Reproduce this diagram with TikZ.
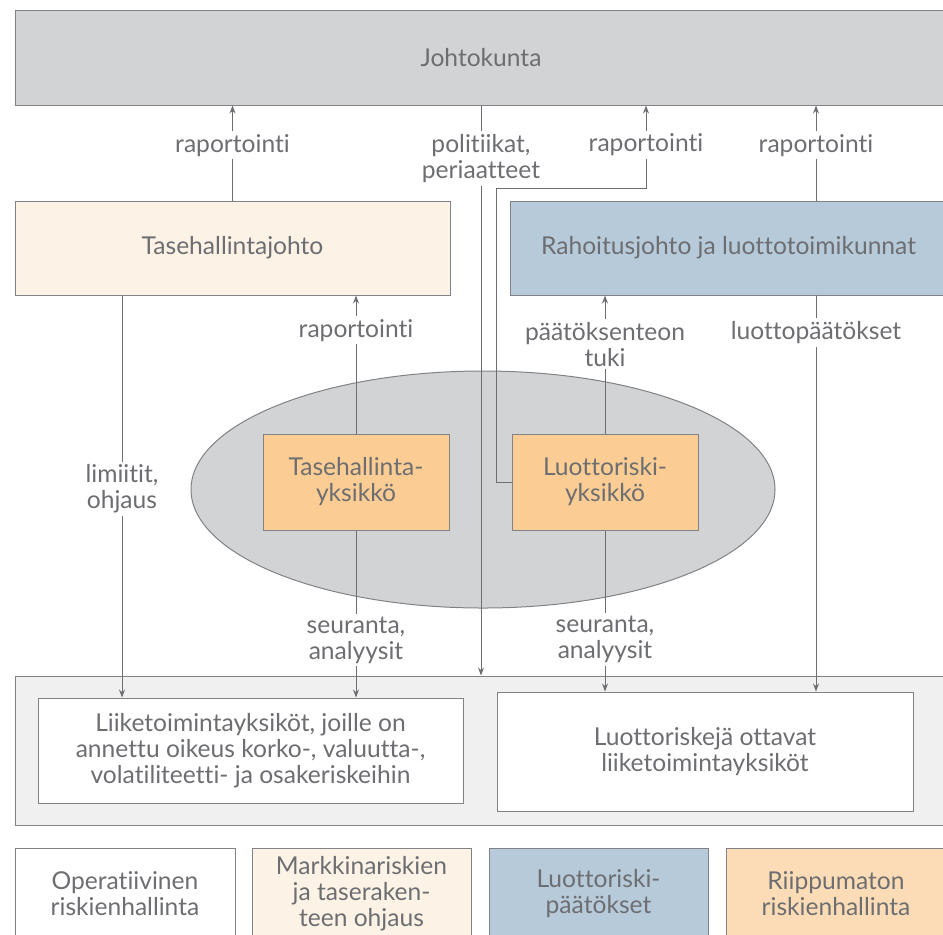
\documentclass[tikz,border=0pt]{standalone}
\usepackage{fontspec}
\setmainfont{Lato}[Ligatures=NoCommon]
\usepackage{tikz}
\usetikzlibrary{arrows.meta, shapes.geometric}
\definecolor{harmaa}{HTML}{D1D3D4}
\definecolor{kerma}{HTML}{FDF2E6}
\definecolor{sininen}{HTML}{B7CADA}
\definecolor{oranssi}{HTML}{FBCD94}
\definecolor{vaalea}{HTML}{FCDCB6}
\definecolor{tausta}{HTML}{F0F0F0}
\definecolor{teksti}{HTML}{6D6E71}
\definecolor{reuna}{HTML}{808285}
\tikzset{>={Stealth[length=4pt,width=3pt]}}

\begin{document}
\begin{tikzpicture}[x=0.5pt, y=-0.5pt, font=\fontsize{12.3}{13}\selectfont, text=teksti,
    laatikko/.style={draw=reuna, line width=0.5pt, rectangle, align=center, inner sep=0pt},
    nuoli/.style={->, draw=teksti, line width=0.5pt},
    selite/.style={fill=white, align=center, inner sep=1.5pt}]
		\useasboundingbox (0,0) rectangle (943,934);
		% ylin taso
		\node[laatikko, fill=harmaa, minimum width=466pt, minimum height=47.5pt] (johto) at (481,57.5) {Johtokunta};
		\node[laatikko, fill=kerma, minimum width=217.5pt, minimum height=47pt] (thj) at (232.5,248) {Tasehallintajohto};
		\node[laatikko, fill=sininen, minimum width=218.5pt, minimum height=47pt] (rj) at (728.5,248) {Rahoitusjohto ja luottotoimikunnat};
		% yksiköt
		\node[ellipse, draw=reuna, line width=0.5pt, fill=harmaa, minimum width=292pt, minimum height=118.5pt, inner sep=0pt] (soikio) at (483,489.5) {};
		\node[laatikko, fill=oranssi, minimum width=93pt, minimum height=48pt] (tyk) at (356,482) {Tasehallinta-\\yksikkö};
		\node[laatikko, fill=oranssi, minimum width=93pt, minimum height=48pt] (lry) at (605,482) {Luottoriski-\\yksikkö};
		% liiketoiminta
		\node[laatikko, fill=tausta, minimum width=466pt, minimum height=74.5pt] (paneeli) at (481,750.5) {};
		\node[laatikko, fill=white, minimum width=212.5pt, minimum height=52.5pt] (lliike) at (250.5,750.5) {Liiketoimintayksiköt, joille on\\annettu oikeus korko-, valuutta-,\\volatiliteetti- ja osakeriskeihin};
		\node[laatikko, fill=white, minimum width=208pt, minimum height=59.5pt] (rliike) at (705,751.5) {Luottoriskejä ottavat\\liiketoimintayksiköt};
		% selitteet
		\node[laatikko, fill=white, minimum width=110pt, minimum height=45.5pt] (op) at (125,893.5) {Operatiivinen\\riskienhallinta};
		\node[laatikko, fill=kerma, minimum width=109.5pt, minimum height=45.5pt] (mr) at (361.5,893.5) {Markkinariskien\\ja taseraken-\\teen ohjaus};
		\node[laatikko, fill=sininen, minimum width=109.5pt, minimum height=45.5pt] (lp) at (598.5,893.5) {Luottoriski-\\päätökset};
		\node[laatikko, fill=vaalea, minimum width=110pt, minimum height=45.5pt] (rh) at (836,893.5) {Riippumaton\\riskienhallinta};

		\coordinate (vas) at (122,0);
		\coordinate (oik) at (816,0);
		\coordinate (kulma) at (646,188);

		% nuolet
		\draw[nuoli] (thj.north) -- node[selite, pos=0.58] (rap1) {raportointi} (thj.north |- johto.south);
		\draw[nuoli] (johto.south) -- node[selite, pos=0.093] (pol) {politiikat,\\periaatteet} (johto.south |- paneeli.north);
		\draw[nuoli] (lry.west) -- ++(-15,0) |- (kulma) -- node[selite, pos=0.52] (rap3) {raportointi} (kulma |- johto.south);
		\draw[nuoli] (rj.north -| oik) -- node[selite, pos=0.58] (rap4) {raportointi} (johto.south -| oik);
		\draw[nuoli] (thj.south -| vas) -- node[selite, pos=0.481] (lim) {limiitit,\\ohjaus} (lliike.north -| vas);
		\draw[nuoli] (tyk.north) -- node[selite, pos=0.748] (rap2) {raportointi} (tyk.north |- thj.south);
		\draw[nuoli] (lry.north) -- node[selite, pos=0.647] (tuki) {päätöksenteon\\tuki} (lry.north |- rj.south);
		\draw[nuoli] (rj.south -| oik) -- node[selite, pos=0.093] (lpt) {luottopäätökset} (rliike.north -| oik);
		\draw[nuoli] (tyk.south) -- node[selite, pos=0.655] (seu1) {seuranta,\\analyysit} (tyk.south |- lliike.north);
		\draw[nuoli] (lry.south) -- node[selite, pos=0.679] (seu2) {seuranta,\\analyysit} (lry.south |- rliike.north);
\end{tikzpicture}
\end{document}
